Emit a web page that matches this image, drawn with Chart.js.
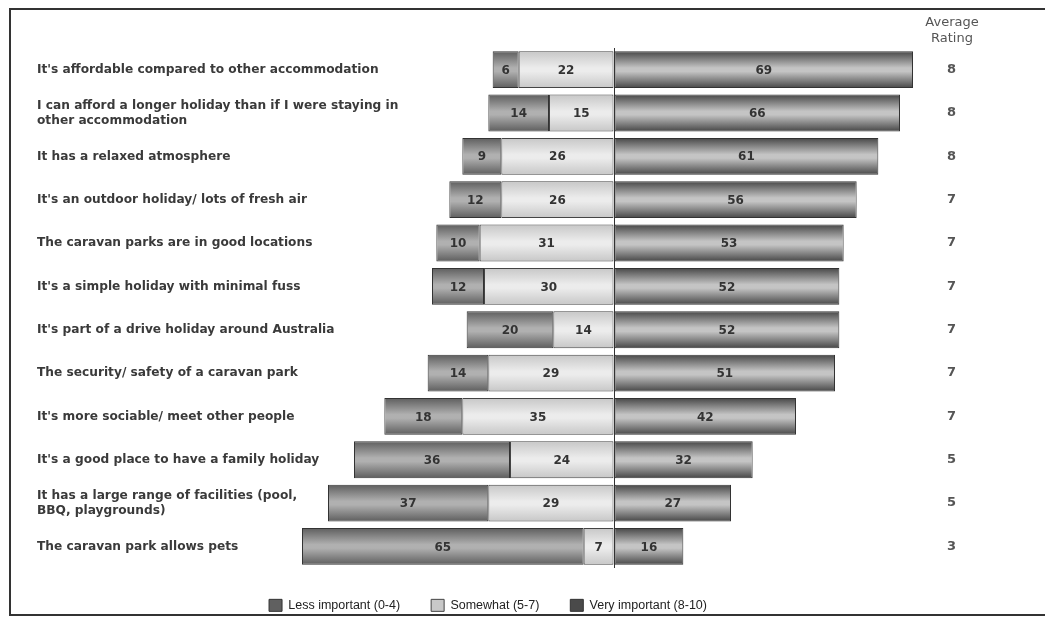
<!DOCTYPE html>
<html>
<head>
<meta charset="utf-8">
<script src="https://cdn.jsdelivr.net/npm/chart.js@4"></script>
<style>
  html, body { margin: 0; padding: 0; background: #fff; }
  #wrap { width: 1045px; height: 617px; position: relative; }
</style>
</head>
<body>
<div id="wrap"><canvas id="graph" width="1045" height="617"></canvas></div>
<script>
// reasons for choosing a caravan park holiday, % of respondents
const categories = [
  "It's affordable compared to other accommodation",
  ["I can afford a longer holiday than if I were staying in", "other accommodation"],
  "It has a relaxed atmosphere",
  "It's an outdoor holiday/ lots of fresh air",
  "The caravan parks are in good locations",
  "It's a simple holiday with minimal fuss",
  "It's part of a drive holiday around Australia",
  "The security/ safety of a caravan park",
  "It's more sociable/ meet other people",
  "It's a good place to have a family holiday",
  ["It has a large range of facilities (pool,", "BBQ, playgrounds)"],
  "The caravan park allows pets"
];
const lessImportant = [6, 14, 9, 12, 10, 12, 20, 14, 18, 36, 37, 65];
const somewhat      = [22, 15, 26, 26, 31, 30, 14, 29, 35, 24, 29, 7];
const veryImportant = [69, 66, 61, 56, 53, 52, 52, 51, 42, 32, 27, 16];
const avgRating     = [8, 8, 8, 7, 7, 7, 7, 7, 7, 5, 5, 3];
const seriesNames   = ["Less important (0-4)", "Somewhat (5-7)", "Very important (8-10)"];

const FONT = '"DejaVu Sans", Verdana, sans-serif';

// bars have a rounded "tube" look: dark top/bottom, light middle
function tube(edge, mid, flat) {
  return function (c) {
    const chart = c.chart;
    if (c.type !== 'data' || !chart.scales.y) return flat;
    const cy = chart.scales.y.getPixelForValue(c.dataIndex);
    if (!Number.isFinite(cy)) return flat;
    const g = chart.ctx.createLinearGradient(0, cy - 18, 0, cy + 18);
    g.addColorStop(0, edge);
    g.addColorStop(0.45, mid);
    g.addColorStop(0.55, mid);
    g.addColorStop(1, edge);
    return g;
  };
}

const frame = {
  id: 'frame',
  beforeDraw(chart) {
    const ctx = chart.ctx;
    ctx.save();
    ctx.fillStyle = '#fff';
    ctx.fillRect(0, 0, chart.width, chart.height);
    ctx.strokeStyle = '#333';
    ctx.lineWidth = 2;
    ctx.strokeRect(10, 9, 1100, 606);
    ctx.restore();
  }
};

const barValues = {
  id: 'barValues',
  afterDatasetsDraw(chart) {
    const ctx = chart.ctx;
    ctx.save();
    ctx.font = 'bold 12px ' + FONT;
    ctx.fillStyle = '#333';
    ctx.textAlign = 'center';
    ctx.textBaseline = 'middle';
    chart.data.datasets.forEach((ds, i) => {
      chart.getDatasetMeta(i).data.forEach((el, j) => {
        ctx.fillText(Math.abs(ds.data[j]), (el.x + el.base) / 2, el.y + 1);
      });
    });
    // header over the rating column
    const x = chart.chartArea.right + 13;
    ctx.font = '13px ' + FONT;
    ctx.fillStyle = '#555';
    ctx.fillText('Average', x, 23);
    ctx.fillText('Rating', x, 39);
    ctx.restore();
  }
};

const order = { [seriesNames[0]]: 0, [seriesNames[1]]: 1, [seriesNames[2]]: 2 };

const graph = document.getElementById('graph').getContext('2d');
let myChart = new Chart(graph, {
  type: 'bar',
  data: {
    labels: categories,
    datasets: [
      {
        label: seriesNames[1],
        data: somewhat.map(v => -v),
        backgroundColor: tube('#c8c8c8', '#ececec', '#dedede'),
        borderColor: '#444',
        borderWidth: 1,
        borderSkipped: false
      },
      {
        label: seriesNames[0],
        data: lessImportant.map(v => -v),
        backgroundColor: tube('#606060', '#b0b0b0', '#8c8c8c'),
        borderColor: '#333',
        borderWidth: 1,
        borderSkipped: false
      },
      {
        label: seriesNames[2],
        data: veryImportant,
        backgroundColor: tube('#4a4a4a', '#c4c4c4', '#8c8c8c'),
        borderColor: '#333',
        borderWidth: 1,
        borderSkipped: false
      }
    ]
  },
  options: {
    indexAxis: 'y',
    responsive: false,
    animation: false,
    layout: { padding: { left: 37, right: 106, top: 48, bottom: -4.6 } },
    datasets: { bar: { barPercentage: 0.85, categoryPercentage: 1 } },
    scales: {
      x: {
        stacked: true,
        min: -75,
        max: 75,
        ticks: { display: false, stepSize: 25 },
        border: { display: false },
        grid: {
          drawTicks: false,
          color: c => (c.tick && c.tick.value === 0 ? '#333' : 'rgba(0,0,0,0)')
        }
      },
      y: {
        stacked: true,
        position: 'left',
        grid: { display: false },
        border: { display: false },
        afterFit(scale) { scale.width = 252; },
        ticks: {
          mirror: true,
          padding: -252,
          color: '#3a3a3a',
          font: { family: FONT, size: 12.2, weight: 'bold', lineHeight: 1.22 }
        }
      },
      y2: {
        type: 'category',
        position: 'right',
        labels: avgRating.map(String),
        offset: true,
        grid: { display: false },
        border: { display: false },
        afterFit(scale) { scale.width = 0; },
        ticks: {
          mirror: true,
          padding: 17,
          color: '#555',
          font: { family: FONT, size: 13, weight: 'bold' }
        }
      }
    },
    plugins: {
      tooltip: { enabled: false },
      legend: {
        position: 'bottom',
        labels: {
          sort: (a, b) => order[a.text] - order[b.text],
          boxWidth: 13,
          boxHeight: 12,
          padding: 31,
          color: '#222',
          font: { family: '"Liberation Sans", Arial, sans-serif', size: 12.5 }
        }
      }
    }
  },
  plugins: [frame, barValues]
});
</script>
</body>
</html>
